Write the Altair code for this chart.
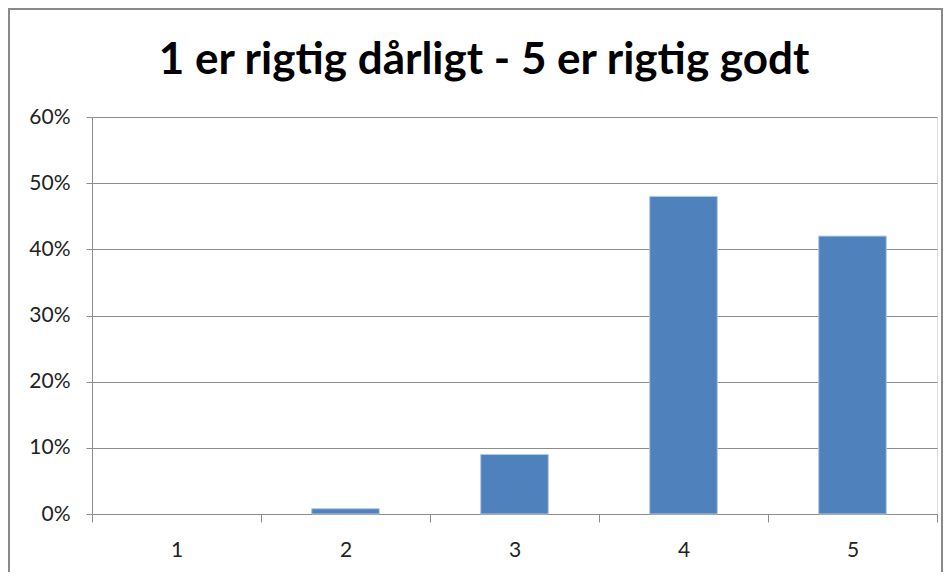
import altair as alt
import pandas as pd

categories = ["1", "2", "3", "4", "5"]
values = [0.0, 0.008, 0.09, 0.48, 0.42]
title_text = "1 er rigtig dårligt - 5 er rigtig godt"

df = pd.DataFrame({"kategori": categories, "andel": values})

FONT = "Lato"
GRAY = "#8c8c8c"

bars = alt.Chart(df).mark_bar(
    color="#4F81BD", stroke="#b4c8e2", strokeWidth=1,
    width=alt.RelativeBandSize(0.4)
).encode(
    x=alt.X("kategori:N", sort=categories, title=None,
            scale=alt.Scale(paddingInner=0, paddingOuter=0),
            axis=alt.Axis(labelAngle=0, tickBand="extent", tickSize=8,
                          labelPadding=17, labelFontSize=21, labelColor="#222",
                          labelFont=FONT, domainColor=GRAY, tickColor=GRAY,
                          grid=False)),
    y=alt.Y("andel:Q", title=None,
            scale=alt.Scale(domain=[0, 0.6], nice=False),
            axis=alt.Axis(format=".0%", values=[0, 0.1, 0.2, 0.3, 0.4, 0.5, 0.6],
                          tickSize=6, labelPadding=16, labelFontSize=21,
                          labelColor="#222", labelFont=FONT,
                          domainColor=GRAY, tickColor=GRAY,
                          gridColor=GRAY, gridWidth=1)),
    strokeOpacity=alt.condition("datum.andel > 0", alt.value(1), alt.value(0)),
)

title = alt.Chart(pd.DataFrame({"t": [title_text]})).mark_text(
    font=FONT, fontSize=44, fontWeight="bold", color="#000",
    align="center", baseline="alphabetic", clip=False
).encode(text="t:N", x=alt.value(392), y=alt.value(-43))

frame = alt.Chart(df).mark_rect(fill=None, stroke="#8a8a8a", strokeWidth=2, clip=False).encode(
    x=alt.value(-83), x2=alt.value(850), y=alt.value(-108), y2=alt.value(600)
)

chart = alt.layer(bars, title, frame).properties(
    width=845, height=397,
    autosize=alt.AutoSizeParams(type="none"),
    padding={"left": 84, "top": 109, "right": 7, "bottom": 58},
).configure_view(stroke=None).configure(background="white")

chart.save("out.html", embed_options={"renderer": "svg", "actions": False})
